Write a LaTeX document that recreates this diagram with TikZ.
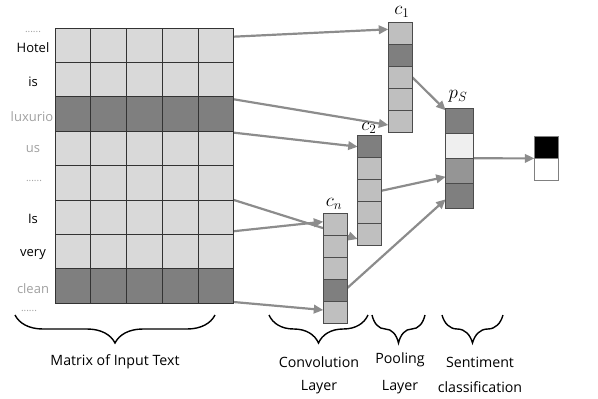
\RequirePackage{fix-cm}
\documentclass[tikz,border=0pt]{standalone}
\usepackage{fontspec}
\setmainfont{Open Sans}
\usetikzlibrary{arrows.meta,decorations.pathreplacing,calc}
\definecolor{mlight}{HTML}{D9D9D9}
\definecolor{mdark}{HTML}{7F7F7F}
\definecolor{clight}{HTML}{BFBFBF}
\definecolor{arrowgray}{HTML}{8C8C8C}
\definecolor{wordgray}{HTML}{A0A0A0}
\definecolor{psl}{HTML}{EFEFEF}
\definecolor{psm}{HTML}{959595}
\pgfdeclarelayer{bg}
\pgfsetlayers{bg,main}
\tikzset{
  mcell/.style={draw=black!80, line width=0.6pt, inner sep=0pt, outer sep=0pt,
    minimum width=35.7pt, minimum height=34.375pt, anchor=north west},
  ccell/.style={draw=black!70, line width=0.6pt, inner sep=0pt, outer sep=0pt,
    minimum width=24pt, minimum height=22pt, anchor=north west},
  pcell/.style={draw=black!70, line width=0.6pt, inner sep=0pt, outer sep=0pt,
    minimum width=27.6pt, minimum height=25pt, anchor=north west},
  ocell/.style={draw=black!50, line width=0.6pt, inner sep=0pt, outer sep=0pt,
    minimum width=24pt, minimum height=21.7pt, anchor=north west},
  arr/.style={draw=arrowgray, line width=2.2pt, -{Triangle[length=9.5pt,width=8.5pt]}},
  word/.style={font=\fontsize{13}{15}\selectfont, inner sep=0pt},
  gword/.style={word, text=wordgray},
  dots/.style={font=\fontsize{10}{12}\selectfont, text=wordgray, inner sep=0pt},
  captxt/.style={font=\fontsize{14.2}{17}\selectfont, inner sep=0pt},
  clab/.style={font=\fontsize{19}{21}\selectfont, inner sep=0pt},
  brc/.style={decorate, decoration={brace, mirror, amplitude=28pt}, line width=1.4pt},
}
\begin{document}
\begin{tikzpicture}[x=1pt,y=-1pt]
\path[use as bounding box] (0,0) rectangle (598,399);
% input matrix
\foreach \r/\f in {1/mlight,2/mlight,3/mdark,4/mlight,5/mlight,6/mlight,7/mlight,8/mdark}
  \foreach \c in {1,...,5}
    \node[mcell,fill=\f] (m\r\c) at ({55+(\c-1)*35.7},{28+(\r-1)*34.375}) {};
% words
\node[dots]  (d1) at (33,32) {......};
\node[word]  (w1) at (33,48) {Hotel};
\node[word]  (w2) at (33,82) {is};
\node[gword] (w3) at (32,117) {luxurio};
\node[gword] (w4) at (33,149) {us};
\node[dots]  (d2) at (34,181) {......};
\node[word]  (w5) at (33,219) {Is};
\node[word]  (w6) at (33,255) {very};
\node[gword] (w7) at (33,289) {clean};
\node[dots]  (d3) at (29,311) {......};
% c1
\foreach \i/\f [count=\k from 0] in {a/clight,b/mdark,c/clight,d/clight,e/clight}
  \node[ccell,fill=\f] (c1\i) at (388.3,{22.3+\k*22}) {};
% c2
\foreach \i/\f [count=\k from 0] in {a/mdark,b/clight,c/clight,d/clight,e/clight}
  \node[ccell,fill=\f] (c2\i) at (357.7,{135.7+\k*22}) {};
% cn
\foreach \i/\f [count=\k from 0] in {a/clight,b/clight,c/clight,d/mdark,e/clight}
  \node[ccell,fill=\f] (cn\i) at (323.3,{213.7+\k*22}) {};
% ps
\foreach \i/\f [count=\k from 0] in {a/mdark,b/psl,c/psm,d/mdark}
  \node[pcell,fill=\f] (ps\i) at (445.7,{108.3+\k*25}) {};
% output
\node[ocell,fill=black] (outa) at (534.3,136.7) {};
\node[ocell,fill=white] (outb) at (534.3,158.4) {};
% labels
\node[clab] (lc1) at (402,11.5) {$c_1$};
\node[clab] (lc2) at (369,128) {$c_2$};
\node[clab] (lcn) at (334,204) {$c_n$};
\node[clab] (lps) at (458,96) {$p_S$};
% arrows
\begin{pgfonlayer}{bg}
\draw[arr] ($(m15.east)+(0,-8.5)$) -- ($(c1a.west)+(0,-4)$);
\draw[arr] ($(m35.north east)+(0,2.5)$) -- ($(c1e.west)+(0,3.7)$);
\draw[arr] ($(m45.north east)+(0,1.5)$) -- (c2a.west);
\draw[arr] (m65.north east) -- ($(c2e.west)+(0,4.3)$);
\draw[arr] ($(m65.south east)+(0,-3)$) -- ($(cna.west)+(0,-3)$);
\draw[arr] ($(m85.south east)+(0,-1)$) -- ($(cne.west)+(0,-2.7)$);
\draw[arr] (c1c.east) -- ($(psa.north west)+(0,2)$);
\draw[arr] (c2c.east) -- ($(psc.west)+(0,6)$);
\draw[arr] ($(cnd.east)+(0,-2.7)$) -- ($(psd.west)+(0,3.5)$);
\draw[arr] (psb.south east) -- (outb.north west);
\end{pgfonlayer}
% braces
\draw[brc] (15,315) -- (215,315);
\draw[brc] (269,315) -- (368,315);
\draw[brc] (372,315) -- (425,315);
\draw[brc] (442,315) -- (503,315);
% captions
\node[captxt] (t1) at (115,362) {Matrix of Input Text};
\node[captxt] (t2) at (319,362) {Convolution};
\node[captxt] (t3) at (319,387) {Layer};
\node[captxt] (t4) at (400,360) {Pooling};
\node[captxt] (t5) at (400,387) {Layer};
\node[captxt] (t6) at (480,362) {Sentiment};
\node[captxt] (t7) at (480,387) {classification};
\end{tikzpicture}
\end{document}
